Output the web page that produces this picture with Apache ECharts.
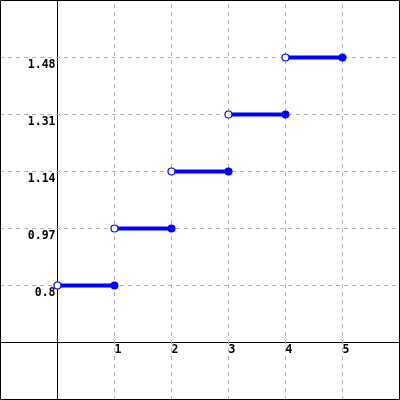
<!DOCTYPE html>
<html>
<head>
<meta charset="utf-8">
<script src="https://cdn.jsdelivr.net/npm/echarts@6/dist/echarts.min.js"></script>
<style>html,body{margin:0;padding:0;background:#fff}#c{width:400px;height:400px}</style>
</head>
<body>
<div id="c"></div>
<script>
// Data
var xStarts = [0, 1, 2, 3, 4];
var xEnds = [1, 2, 3, 4, 5];
var values = [0.8, 0.97, 1.14, 1.31, 1.48];
var xTicks = [1, 2, 3, 4, 5];
var yTicks = [0.8, 0.97, 1.14, 1.31, 1.48];

var chart = echarts.init(document.getElementById('c'));
var blue = '#0000ff';
var font = {fontFamily: 'DejaVu Sans Mono', fontWeight: 'bold', fontSize: 11.5, color: '#000'};

var series = [];
// grid lines via markLine
series.push({
  type: 'line', data: [], silent: true, z: 1,
  markLine: {
    silent: true, symbol: 'none', label: {show: false}, animation: false, z: 1,
    lineStyle: {color: '#b4b4b4', type: [4, 4], width: 1},
    emphasis: {disabled: true},
    data: xTicks.map(function (v) { return {xAxis: v}; })
      .concat(yTicks.map(function (v) { return {yAxis: v}; }))
  }
});
for (var i = 0; i < values.length; i++) {
  series.push({
    type: 'line', showSymbol: false, silent: true, animation: false,
    lineStyle: {color: blue, width: 4}, z: 3,
    data: [[xStarts[i], values[i]], [xEnds[i], values[i]]]
  });
}
series.push({
  type: 'scatter', symbol: 'circle', symbolSize: 7, silent: true, animation: false, z: 5,
  itemStyle: {color: '#fff', borderColor: blue, borderWidth: 1.2, opacity: 1},
  data: xStarts.map(function (x, i) { return [x, values[i]]; })
});
series.push({
  type: 'scatter', symbol: 'circle', symbolSize: 8, silent: true, animation: false, z: 5,
  itemStyle: {color: blue, opacity: 1},
  data: xEnds.map(function (x, i) { return [x, values[i]]; })
});

chart.setOption({
  animation: false,
  grid: {left: 0, right: 0, top: 0, bottom: 0, containLabel: false, outerBoundsMode: 'none'},
  xAxis: {
    type: 'value', min: -57.5 / 57, max: 342.5 / 57, offset: -57.5,
    axisLine: {show: true, onZero: false, lineStyle: {color: '#000', width: 1}},
    axisTick: {show: false},
    splitLine: {show: false},
    axisLabel: Object.assign({customValues: xTicks, align: 'left', margin: 2}, font)
  },
  yAxis: {
    type: 'value', min: 1.48 - 342.5 * 0.17 / 57, max: 1.48 + 57.5 * 0.17 / 57, offset: -57.5,
    axisLine: {show: true, onZero: false, lineStyle: {color: '#000', width: 1}},
    axisTick: {show: false},
    splitLine: {show: false},
    axisLabel: Object.assign({customValues: yTicks, verticalAlign: 'top', margin: 2, padding: [2, 0, 0, 0]}, font)
  },
  graphic: [{
    type: 'rect', shape: {x: 0.5, y: 0.5, width: 399, height: 399}, z: 100, silent: true,
    style: {fill: 'none', stroke: '#000', lineWidth: 1}
  }],
  series: series
});
</script>
</body>
</html>
